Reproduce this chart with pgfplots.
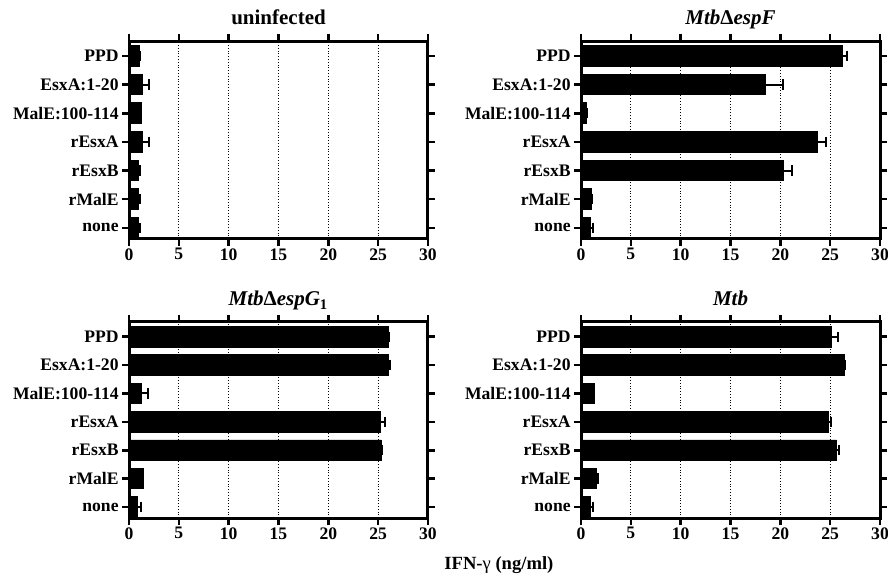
\documentclass[border=0pt]{standalone}
\usepackage{fontspec}
\setmainfont{Liberation Serif}
\usepackage{pgfplots}
\pgfplotsset{compat=1.18}

\pgfplotsset{
  panel/.style={
    xbar,
    scale only axis,
    width=149.5pt, height=99pt,
    xmin=0, xmax=30, ymin=-0.39, ymax=6.52,
    xtick={0,5,...,30}, ytick={0,...,6},
    yticklabels={none,rMalE,rEsxB,rEsxA,MalE:100-114,EsxA:1-20,PPD},
    tick align=outside,
    major tick length=3.5pt,
    tick style={black, line width=1.3pt},
    axis line style={line width=1.5pt},
    xmajorgrids,
    major grid style={densely dotted, black, line width=0.4pt},
    bar width=0.72,
    tick label style={font=\bfseries\fontsize{8.8}{10}\selectfont},
    xticklabel style={inner sep=1pt},
    yticklabel style={inner sep=1.5pt},
    /pgf/number format/assume math mode=true,
  },
  bars/.style={
    fill=black, draw=black,
    error bars/.cd, x dir=plus, x explicit,
    error mark=|,
    error bar style={line width=1pt, black},
    error mark options={line width=1pt, mark size=2.6pt, black},
  },
}

\begin{document}
\begin{tikzpicture}

\begin{axis}[panel, at={(64.5pt,-119.5pt)}, anchor=south west]
\addplot[bars] coordinates {
  (0.93,0) +- (0.20,0)
  (0.93,1) +- (0.20,0)
  (0.93,2) +- (0.20,0)
  (1.33,3) +- (0.65,0)
  (1.20,4) +- (0.05,0)
  (1.33,5) +- (0.65,0)
  (1.00,6) +- (0.10,0)
};
\end{axis}

\begin{axis}[panel, at={(290.5pt,-119.5pt)}, anchor=south west]
\addplot[bars] coordinates {
  (0.95,0) +- (0.25,0)
  (1.00,1) +- (0.15,0)
  (20.3,2) +- (0.90,0)
  (23.75,3) +- (0.80,0)
  (0.55,4) +- (0.02,0)
  (18.55,5) +- (1.75,0)
  (26.25,6) +- (0.45,0)
};
\end{axis}

\begin{axis}[panel, height=98pt, at={(64.5pt,-259pt)}, anchor=south west]
\addplot[bars] coordinates {
  (0.87,0) +- (0.33,0)
  (1.43,1) +- (0.02,0)
  (25.3,2) +- (0.10,0)
  (25.2,3) +- (0.50,0)
  (1.27,4) +- (0.65,0)
  (26.0,5) +- (0.15,0)
  (26.0,6) +- (0.05,0)
};
\end{axis}

\begin{axis}[panel, height=98pt, at={(290.5pt,-259pt)}, anchor=south west]
\addplot[bars] coordinates {
  (0.97,0) +- (0.25,0)
  (1.55,1) +- (0.15,0)
  (25.65,2) +- (0.25,0)
  (24.85,3) +- (0.25,0)
  (1.30,4) +- (0.02,0)
  (26.45,5) +- (0.05,0)
  (25.1,6) +- (0.70,0)
};
\end{axis}

% panel titles
\begin{scope}[every node/.style={anchor=base, inner sep=0pt, font=\bfseries\fontsize{10.5}{12}\selectfont}]
\node at (139.25pt,-12.5pt) {uninfected};
\node at (365.25pt,-12.5pt) {\textit{Mtb}Δ\textit{espF}};
\node at (139.25pt,-153pt) {\textit{Mtb}Δ\textit{espG}\textsubscript{1}};
\node at (365.25pt,-153pt) {\textit{Mtb}};
\end{scope}

\node[font=\bfseries\fontsize{9.3}{11}\selectfont, anchor=base west, inner sep=0pt] at (222pt,-284.5pt) {IFN-{\mdseries γ} (ng/ml)};

\pgfresetboundingbox
\path[use as bounding box] (0,0) rectangle (444pt,-291pt);
\end{tikzpicture}
\end{document}
